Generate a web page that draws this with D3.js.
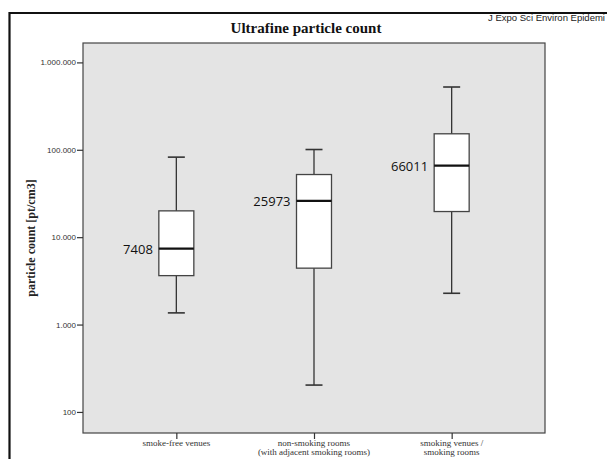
<!DOCTYPE html>
<html>
<head>
<meta charset="utf-8">
<script src="https://cdnjs.cloudflare.com/ajax/libs/d3/7.8.5/d3.min.js"></script>
<style>
  body { margin: 0; background: #fff; }
  svg { display: block; }
</style>
</head>
<body>
<div class="container"></div>
<script>
// data (pt/cm3)
var categories = ["smoke-free venues", "non-smoking rooms", "smoking venues /"];
var catLines = [["smoke-free venues"], ["non-smoking rooms", "(with adjacent smoking rooms)"], ["smoking venues /", "smoking rooms"]];
var whiskerLow = [1360, 203, 2280];
var q1 = [3630, 4420, 19650];
var medians = [7408, 25973, 66011];
var q3 = [20000, 52100, 152400];
var whiskerHigh = [82400, 100700, 522900];
var yTicks = [100, 1000, 10000, 100000, 1000000];

var width = 607, height = 459;
var plot = { left: 83, right: 545, top: 43, bottom: 433 };

var svg = d3.select(".container")
    .append("svg")
    .attr("width", width)
    .attr("height", height);

// outer frame (runs off the right/bottom edges)
svg.append("path")
    .attr("d", "M9.5," + height + "V13H" + width)
    .attr("fill", "none")
    .attr("stroke", "#111")
    .attr("stroke-width", 2.2);

svg.append("text")
    .attr("x", 306)
    .attr("y", 33)
    .attr("text-anchor", "middle")
    .style("font-family", "'Liberation Serif', serif")
    .style("font-weight", "bold")
    .style("font-size", "15px")
    .attr("fill", "#111")
    .text("Ultrafine particle count");

// source note, cut short the same way as in the picture
svg.append("text")
    .attr("x", 488)
    .attr("y", 21)
    .attr("textLength", 117)
    .attr("lengthAdjust", "spacingAndGlyphs")
    .style("font-family", "'Liberation Sans', Arial, sans-serif")
    .style("font-size", "9.5px")
    .attr("fill", "#222")
    .text("J Expo Sci Environ Epidemi");

var y = d3.scaleLog()
    .domain([Math.pow(10, 1.759), Math.pow(10, 6.222)])
    .range([plot.bottom, plot.top]);

var x = d3.scalePoint()
    .domain(categories)
    .range([plot.left, plot.right])
    .padding(0.678);

// plot background
svg.append("rect")
    .attr("x", plot.left)
    .attr("y", plot.top)
    .attr("width", plot.right - plot.left)
    .attr("height", plot.bottom - plot.top)
    .attr("fill", "#e4e4e4")
    .attr("stroke", "#444")
    .attr("stroke-width", 1.2);

// y axis
var yAxis = svg.append("g")
    .attr("transform", "translate(" + plot.left + ",0)")
    .call(d3.axisLeft(y)
        .tickValues(yTicks)
        .tickSize(6)
        .tickFormat(function(d) { return d3.format(",")(d).replace(/,/g, "."); }));
yAxis.select(".domain").remove();
yAxis.selectAll("line").attr("stroke", "#333").attr("stroke-width", 1.2);
yAxis.selectAll("text")
    .attr("x", -7)
    .style("font-family", "'Liberation Sans', Arial, sans-serif")
    .style("font-size", "8px")
    .attr("fill", "#333");

// x axis
var xAxis = svg.append("g")
    .attr("transform", "translate(0," + plot.bottom + ")")
    .call(d3.axisBottom(x).tickSize(6).tickFormat(""));
xAxis.select(".domain").remove();
xAxis.selectAll("line").attr("stroke", "#333").attr("stroke-width", 1.2);

categories.forEach(function(c, i) {
    var t = svg.append("text")
        .attr("x", x(c))
        .attr("y", 446)
        .attr("text-anchor", "middle")
        .style("font-family", "'Liberation Serif', serif")
        .style("font-size", "9px")
        .attr("fill", "#333");
    catLines[i].forEach(function(line, j) {
        t.append("tspan")
            .attr("x", x(c))
            .attr("dy", j === 0 ? 0 : 9)
            .text(line);
    });
});

svg.append("text")
    .attr("transform", "translate(35," + ((plot.top + plot.bottom) / 2) + ") rotate(-90)")
    .attr("text-anchor", "middle")
    .style("font-family", "'Liberation Serif', serif")
    .style("font-weight", "bold")
    .style("font-size", "12px")
    .attr("fill", "#222")
    .text("particle count [pt/cm3]");

// boxes
var boxW = 35, capW = 17;
var boxes = svg.append("g").selectAll("g")
    .data(categories)
    .enter()
    .append("g");

boxes.each(function(c, i) {
    var g = d3.select(this);
    var cx = x(c);
    g.append("line")
        .attr("x1", cx).attr("x2", cx)
        .attr("y1", y(whiskerHigh[i])).attr("y2", y(whiskerLow[i]))
        .attr("stroke", "#333").attr("stroke-width", 1.3);
    [whiskerHigh[i], whiskerLow[i]].forEach(function(v) {
        g.append("line")
            .attr("x1", cx - capW / 2).attr("x2", cx + capW / 2)
            .attr("y1", y(v)).attr("y2", y(v))
            .attr("stroke", "#333").attr("stroke-width", 1.6);
    });
    g.append("rect")
        .attr("x", cx - boxW / 2)
        .attr("y", y(q3[i]))
        .attr("width", boxW)
        .attr("height", y(q1[i]) - y(q3[i]))
        .attr("fill", "#fff")
        .attr("stroke", "#444")
        .attr("stroke-width", 1.3);
    g.append("line")
        .attr("x1", cx - boxW / 2).attr("x2", cx + boxW / 2)
        .attr("y1", y(medians[i])).attr("y2", y(medians[i]))
        .attr("stroke", "#111").attr("stroke-width", 2.2);
    g.append("text")
        .attr("x", cx - boxW / 2 - 6)
        .attr("y", y(medians[i]) + 5)
        .attr("text-anchor", "end")
        .style("font-family", "'Open Sans', sans-serif")
        .style("font-size", "13px")
        .attr("fill", "#111")
        .text(medians[i]);
});
</script>
</body>
</html>
